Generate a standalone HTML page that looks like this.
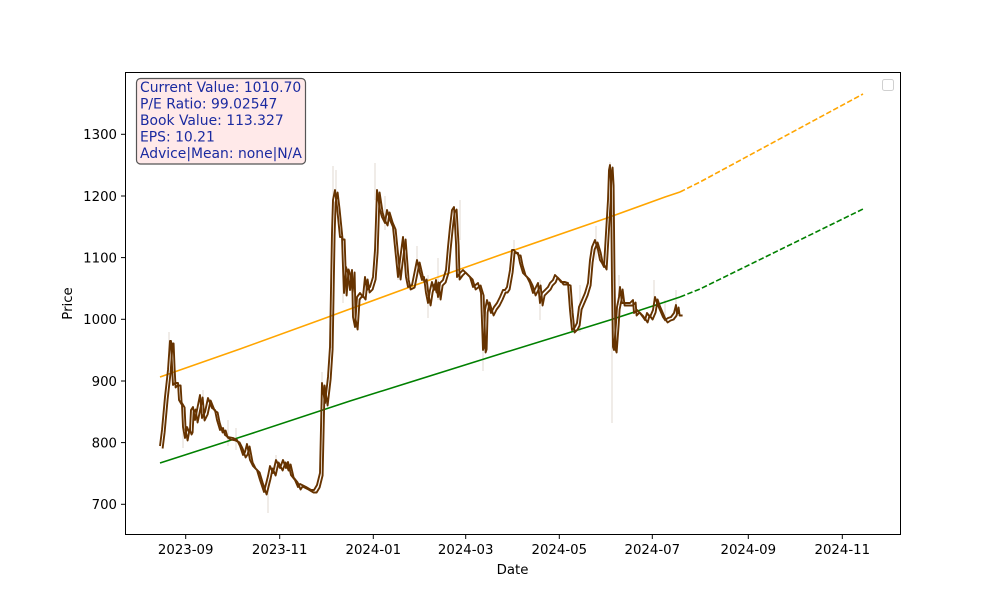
<!DOCTYPE html>
<html><head><meta charset="utf-8"><style>
html,body{margin:0;padding:0;background:#fff;}
svg{display:block;}
text{font-family:"DejaVu Sans","Liberation Sans",sans-serif;}
</style></head><body>
<svg width="1000" height="600" viewBox="0 0 1000 600" xmlns="http://www.w3.org/2000/svg">
<rect x="0" y="0" width="1000" height="600" fill="#fff"/>
<!-- high-low bars -->
<g stroke="#d8ccc2" stroke-opacity="0.5" stroke-width="1.5">
<line x1="169" y1="332" x2="169" y2="350"/>
<line x1="183" y1="420" x2="183" y2="448"/>
<line x1="203" y1="390" x2="203" y2="420"/>
<line x1="228" y1="420" x2="228" y2="446"/>
<line x1="236" y1="428" x2="236" y2="450"/>
<line x1="268" y1="480" x2="268" y2="513"/>
<line x1="276" y1="455" x2="276" y2="475"/>
<line x1="322" y1="372" x2="322" y2="405"/>
<line x1="331" y1="318" x2="331" y2="348"/>
<line x1="333" y1="166" x2="333" y2="215"/>
<line x1="336" y1="170" x2="336" y2="200"/>
<line x1="343" y1="262" x2="343" y2="303"/>
<line x1="375" y1="163" x2="375" y2="200"/>
<line x1="385" y1="196" x2="385" y2="230"/>
<line x1="398" y1="250" x2="398" y2="280"/>
<line x1="417" y1="246" x2="417" y2="275"/>
<line x1="428" y1="275" x2="428" y2="318"/>
<line x1="438" y1="258" x2="438" y2="300"/>
<line x1="460" y1="200" x2="460" y2="240"/>
<line x1="483" y1="315" x2="483" y2="371"/>
<line x1="514" y1="240" x2="514" y2="262"/>
<line x1="540" y1="280" x2="540" y2="320"/>
<line x1="580" y1="285" x2="580" y2="332"/>
<line x1="596" y1="226" x2="596" y2="260"/>
<line x1="610" y1="162" x2="610" y2="200"/>
<line x1="612" y1="280" x2="612" y2="423"/>
<line x1="619" y1="275" x2="619" y2="305"/>
<line x1="654" y1="280" x2="654" y2="305"/>
<line x1="665" y1="300" x2="665" y2="322"/>
<line x1="676" y1="290" x2="676" y2="318"/>
</g>
<!-- orange line -->
<polyline fill="none" stroke="#FFA500" stroke-width="1.6" points="160,377 240,349 320,320 410,287 500,255 607,218 665,197 680,192"/>
<polyline fill="none" stroke="#FFA500" stroke-width="1.6" stroke-dasharray="5.5,2.4" points="680,192 700,182 863,94"/>
<!-- green line -->
<polyline fill="none" stroke="#008000" stroke-width="1.6" points="160,463 250,434 350,401 500,354 610,320 665,302 680,297"/>
<polyline fill="none" stroke="#008000" stroke-width="1.6" stroke-dasharray="5.5,2.4" points="680,297 700,289 863,209"/>
<!-- price lines -->
<g fill="none" stroke="#663300" stroke-width="1.9" stroke-linejoin="round">
<polyline id="p1" points="160,446 162,430 165,397 168,370 170,341 171,341 172,366 173,385 175,383 178,383 179,400 182,405 183,427 185,438 187,427 189,432 190,430 191,410 193,407 195,420 197,410 200,395 202,418 205,412 208,398 212,408 215,410 217,420 220,430 223,428 225,435 228,437 233,438 237,440 240,446 243,455 245,452 247,444 250,460 253,466 257,470 260,480 264,492 268,476 270,466 273,473 276,460 280,468 283,460 286,468 288,462 291,475 295,480 298,487 300,484 306,487 311,490 314,490 317,485 320,473 322,383 325,403 328,377 330,347 332,233 333,200 335,190 337,207 340,237 342,237 343,267 344,293 346,267 348,273 350,290 352,270 353,317 355,327 357,297 360,293 363,297 365,277 367,290 370,287 373,277 375,250 377,190 380,210 382,217 385,223 387,210 390,220 393,227 396,257 398,277 400,260 403,237 406,277 408,287 412,285 415,270 417,260 420,273 422,280 424,277 426,293 428,303 430,290 432,282 434,290 436,280 438,297 440,283 443,280 446,270 448,247 450,227 452,210 454,207 456,243 457,277 460,273 463,270 466,273 470,277 473,287 478,283 481,293 483,350 484,347 485,310 487,300 489,307 491,313 494,307 497,303 500,297 503,290 505,290 507,287 510,270 512,250 514,250 516,253 518,253 520,263 523,273 527,277 530,283 533,293 536,287 538,283 540,303 542,293 545,290 548,287 550,283 553,280 555,275 558,278 561,282 565,282 568,283 570,310 572,330 575,327 577,323 579,307 582,300 585,293 588,283 590,260 592,247 595,240 598,250 600,260 602,263 604,267 606,233 608,200 609,170 610,165 611,183 612,283 613,347 614,350 616,323 617,307 619,297 620,287 622,303 624,303 627,303 630,303 633,300 634,313 637,310 640,313 643,317 645,320 647,313 650,317 653,310 655,297 657,303 660,310 663,317 665,320 668,318 671,317 674,313 676,305 677,313 680,313"/>
<use href="#p1" transform="translate(2.6,2.5)"/>
</g>
<!-- axes frame -->
<rect x="125.5" y="72.5" width="775" height="462" fill="none" stroke="#000" stroke-width="1"/>
<!-- ticks -->
<g stroke="#000" stroke-width="1">
<line x1="121" y1="134.3" x2="125.5" y2="134.3"/>
<line x1="121" y1="196" x2="125.5" y2="196"/>
<line x1="121" y1="257.6" x2="125.5" y2="257.6"/>
<line x1="121" y1="319.3" x2="125.5" y2="319.3"/>
<line x1="121" y1="381" x2="125.5" y2="381"/>
<line x1="121" y1="442.6" x2="125.5" y2="442.6"/>
<line x1="121" y1="504.3" x2="125.5" y2="504.3"/>
<line x1="185.7" y1="534.5" x2="185.7" y2="539"/>
<line x1="279.7" y1="534.5" x2="279.7" y2="539"/>
<line x1="373.3" y1="534.5" x2="373.3" y2="539"/>
<line x1="465.7" y1="534.5" x2="465.7" y2="539"/>
<line x1="559.3" y1="534.5" x2="559.3" y2="539"/>
<line x1="652.3" y1="534.5" x2="652.3" y2="539"/>
<line x1="748.3" y1="534.5" x2="748.3" y2="539"/>
<line x1="842.3" y1="534.5" x2="842.3" y2="539"/>
</g>
<g font-size="13.3" fill="#000" text-anchor="end">
<text x="117" y="139">1300</text>
<text x="117" y="201">1200</text>
<text x="117" y="262.5">1100</text>
<text x="117" y="324">1000</text>
<text x="117" y="386">900</text>
<text x="117" y="447.5">800</text>
<text x="117" y="509">700</text>
</g>
<g font-size="13.3" fill="#000" text-anchor="middle">
<text x="185.7" y="554">2023-09</text>
<text x="279.7" y="554">2023-11</text>
<text x="373.3" y="554">2024-01</text>
<text x="465.7" y="554">2024-03</text>
<text x="559.3" y="554">2024-05</text>
<text x="652.3" y="554">2024-07</text>
<text x="748.3" y="554">2024-09</text>
<text x="842.3" y="554">2024-11</text>
<text x="512.5" y="574">Date</text>
<text transform="translate(72,303.5) rotate(-90)">Price</text>
</g>
<!-- info box -->
<rect x="136.5" y="78.5" width="169" height="85.5" rx="4" ry="4" fill="#ffe9e9" stroke="#555" stroke-width="1.2"/>
<g font-size="13.9" fill="#1a2aa0">
<text x="140" y="92">Current Value: 1010.70</text>
<text x="140" y="108.5">P/E Ratio: 99.02547</text>
<text x="140" y="125">Book Value: 113.327</text>
<text x="140" y="141.5">EPS: 10.21</text>
<text x="140" y="158">Advice|Mean: none|N/A</text>
</g>
<!-- empty legend -->
<rect x="882.5" y="79.5" width="11" height="11" rx="2" fill="#fff" stroke="#d0d0d0" stroke-width="1"/>
</svg>
</body></html>
